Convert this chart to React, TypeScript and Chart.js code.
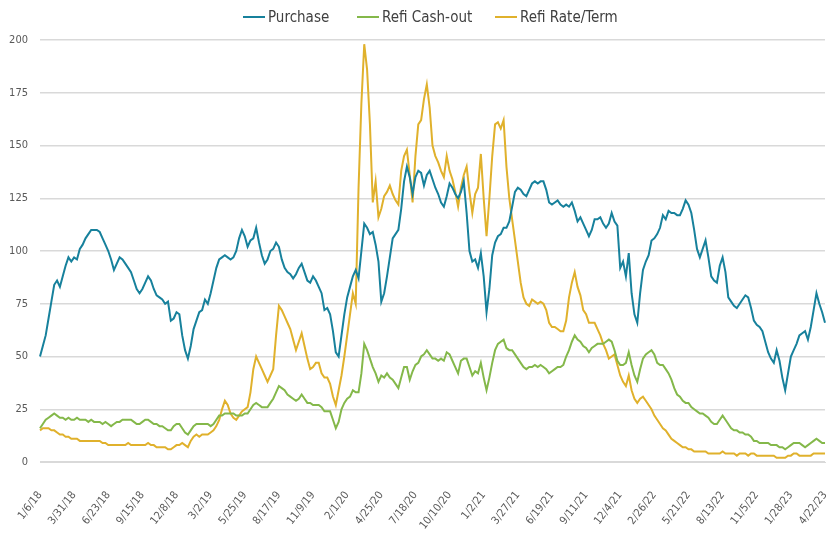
import React, { useEffect, useRef } from "react";
import { Chart, registerables } from "chart.js";

Chart.register(...registerables);

const START_DATE = "2018-01-06";
const TICK_EVERY = 12;

const PURCHASE = [
  50, 55, 60, 68, 76, 84, 86, 83, 88, 93, 97, 95, 97, 96, 101, 103, 106, 108, 110, 110,
  110, 109, 106, 103, 100, 96, 91, 94, 97, 96, 94, 92, 90, 86, 82, 80, 82, 85, 88, 86,
  82, 79, 78, 77, 75, 76, 67, 68, 71, 70, 60, 53, 49, 55, 63, 67, 71, 72, 77, 75,
  80, 86, 92, 96, 97, 98, 97, 96, 97, 100, 106, 110, 107, 102, 105, 106, 111, 104, 98, 94,
  96, 100, 101, 104, 102, 96, 92, 90, 89, 87, 89, 92, 94, 90, 86, 85, 88, 86, 83, 80,
  72, 73, 70, 62, 52, 50, 60, 70, 78, 83, 88, 91, 87, 100, 113, 111, 108, 109, 103, 95,
  76, 80, 88, 97, 106, 108, 110, 120, 133, 140, 135, 127, 135, 138, 137, 131, 136, 138, 134, 130,
  127, 123, 121, 126, 132, 130, 127, 125, 128, 133, 118, 100, 95, 96, 92, 99, 88, 71, 82, 98,
  104, 107, 108, 111, 111, 114, 121, 128, 130, 129, 127, 126, 129, 132, 133, 132, 133, 133, 129, 123,
  122, 123, 124, 122, 121, 122, 121, 123, 119, 114, 116, 113, 110, 107, 110, 115, 115, 116, 113, 111,
  113, 118, 114, 112, 92, 95, 88, 99, 80, 70, 66, 80, 91, 95, 98, 105, 106, 108, 111, 117,
  115, 119, 118, 118, 117, 117, 120, 124, 122, 118, 110, 101, 97, 101, 105, 97, 88, 86, 85, 93,
  97, 90, 78, 76, 74, 73, 75, 77, 79, 78, 73, 67, 65, 64, 62, 57, 52, 49, 47, 53,
  48, 40, 34, 42, 50, 53, 56, 60, 61, 62, 58, 64, 72, 80, 75, 71, 66,
];

const REFI_CASH_OUT = [
  16, 18, 20, 21, 22, 23, 22, 21, 21, 20, 21, 20, 20, 21, 20, 20, 20, 19, 20, 19,
  19, 19, 18, 19, 18, 17, 18, 19, 19, 20, 20, 20, 20, 19, 18, 18, 19, 20, 20, 19,
  18, 18, 17, 17, 16, 15, 15, 17, 18, 18, 16, 14, 13, 15, 17, 18, 18, 18, 18, 18,
  17, 18, 20, 22, 22, 23, 23, 23, 23, 22, 22, 22, 23, 23, 25, 27, 28, 27, 26, 26,
  26, 28, 30, 33, 36, 35, 34, 32, 31, 30, 29, 30, 32, 30, 28, 28, 27, 27, 27, 26,
  24, 24, 24, 20, 16, 19, 25, 28, 30, 31, 34, 33, 33, 42, 56, 53, 49, 45, 42, 38,
  41, 40, 42, 40, 39, 37, 35, 40, 45, 45, 39, 43, 46, 47, 50, 51, 53, 51, 49, 49,
  48, 49, 48, 52, 51, 48, 45, 42, 48, 49, 49, 45, 41, 43, 42, 47, 40, 34, 40, 47,
  53, 56, 57, 58, 54, 53, 53, 51, 49, 47, 45, 44, 45, 45, 46, 45, 46, 45, 44, 42,
  43, 44, 45, 45, 46, 50, 53, 57, 60, 58, 57, 55, 54, 52, 54, 55, 56, 56, 56, 57,
  58, 57, 53, 48, 46, 46, 47, 52, 46, 41, 38, 44, 49, 51, 52, 53, 51, 47, 46, 46,
  44, 42, 39, 35, 32, 31, 29, 28, 28, 26, 25, 24, 23, 23, 22, 21, 19, 18, 18, 20,
  22, 20, 18, 16, 15, 15, 14, 14, 13, 13, 12, 10, 10, 9, 9, 9, 9, 8, 8, 8,
  7, 7, 6, 7, 8, 9, 9, 9, 8, 7, 8, 9, 10, 11, 10, 9, 9,
];

const REFI_RATE_TERM = [
  15, 16, 16, 16, 15, 15, 14, 13, 13, 12, 12, 11, 11, 11, 10, 10, 10, 10, 10, 10,
  10, 10, 9, 9, 8, 8, 8, 8, 8, 8, 8, 9, 8, 8, 8, 8, 8, 8, 9, 8,
  8, 7, 7, 7, 7, 6, 6, 7, 8, 8, 9, 8, 7, 10, 12, 13, 12, 13, 13, 13,
  14, 15, 17, 20, 25, 29, 27, 23, 21, 20, 22, 24, 25, 26, 33, 44, 50, 47, 44, 41,
  38, 41, 44, 60, 74, 72, 69, 66, 63, 58, 53, 57, 61, 55, 49, 44, 45, 47, 47, 42,
  40, 40, 37, 31, 27, 34, 41, 50, 60, 70, 80, 75, 130, 170, 198, 186, 160, 123, 133, 116,
  120, 126, 128, 131, 127, 124, 122, 138, 145, 148, 136, 123, 145, 160, 162, 172, 179, 168, 150, 145,
  142, 138, 135, 145, 138, 134, 128, 121, 130, 136, 140, 128, 118, 127, 130, 146, 125, 107, 125, 145,
  160, 161, 158, 162, 140, 125, 115, 105, 95, 85, 78, 75, 74, 77, 76, 75, 76, 75, 72, 66,
  64, 64, 63, 62, 62, 67, 78, 85, 90, 83, 79, 72, 70, 66, 66, 66, 63, 60, 56, 53,
  49, 50, 51, 46, 41, 38, 36, 41, 34, 30, 28, 30, 31, 29, 27, 25, 22, 20, 18, 16,
  15, 13, 11, 10, 9, 8, 7, 7, 6, 6, 5, 5, 5, 5, 5, 4, 4, 4, 4, 4,
  5, 4, 4, 4, 4, 3, 4, 4, 4, 3, 4, 4, 3, 3, 3, 3, 3, 3, 3, 2,
  2, 2, 2, 3, 3, 4, 4, 3, 3, 3, 3, 3, 4, 4, 4, 4, 4,
];

const SERIES_NAMES = ["Purchase", "Refi Cash-out", "Refi Rate/Term"];
const SERIES_COLORS = ["#17819c", "#84b84a", "#e0b12c"];

function weekLabels(n: number): string[] {
  const [y, m, d] = START_DATE.split("-").map(Number);
  const base = Date.UTC(y, m - 1, d);
  const out: string[] = [];
  for (let i = 0; i < n; i++) {
    const dt = new Date(base + i * 7 * 86400000);
    out.push(`${dt.getUTCMonth() + 1}/${dt.getUTCDate()}/${String(dt.getUTCFullYear()).slice(2)}`);
  }
  return out;
}

const FONT = "'Liberation Sans Narrow', 'Arial Narrow', 'DejaVu Sans Condensed', 'Liberation Sans', sans-serif";
const LEGEND_LEFT = [243, 357, 495];

export default function App() {
  const ref = useRef<HTMLCanvasElement | null>(null);

  useEffect(() => {
    if (!ref.current) return;
    const labels = weekLabels(PURCHASE.length);
    const dataSets = [PURCHASE, REFI_CASH_OUT, REFI_RATE_TERM];

    const chart = new Chart(ref.current, {
      type: "line",
      data: {
        labels,
        datasets: dataSets.map((d, i) => ({
          label: SERIES_NAMES[i],
          data: d,
          borderColor: SERIES_COLORS[i],
          backgroundColor: SERIES_COLORS[i],
          borderWidth: 2,
          pointRadius: 0,
          tension: 0,
          fill: false,
        })),
      },
      options: {
        animation: false,
        responsive: false,
        maintainAspectRatio: false,
        layout: { padding: { top: 40, right: 2, left: 0, bottom: 0 } },
        plugins: {
          legend: { display: false },
          tooltip: { enabled: false },
        },
        scales: {
          x: {
            type: "category",
            offset: false,
            grid: { display: false },
            border: { display: true, color: "#d9d9d9" },
            afterFit(scale: any) {
              scale.height = 71;
              scale.paddingRight = 0;
              scale.paddingLeft = 0;
            },
            ticks: {
              autoSkip: false,
              maxRotation: 52,
              minRotation: 52,
              color: "#595959",
              padding: 19,
              font: { family: FONT, size: 11 },
              callback(_v: any, i: number) {
                return i % TICK_EVERY === 0 ? labels[i] : null;
              },
            },
          },
          y: {
            min: 0,
            max: 200,
            afterFit(scale: any) {
              scale.width = 40;
            },
            border: { display: false },
            grid: { color: "#d9d9d9", lineWidth: 1.5, drawTicks: false },
            ticks: {
              stepSize: 25,
              color: "#595959",
              padding: 12,
              font: { family: FONT, size: 11 },
            },
          },
        },
      },
    });
    return () => chart.destroy();
  }, []);

  return (
    <div style={{ position: "absolute", left: 0, top: 0, width: 827, height: 533, background: "#fff" }}>
      <canvas ref={ref} width={827} height={533} style={{ width: 827, height: 533, display: "block" }} />
      {SERIES_NAMES.map((name, i) => (
        <div
          key={name}
          style={{
            position: "absolute",
            top: 8,
            left: LEGEND_LEFT[i],
            display: "flex",
            alignItems: "center",
            fontFamily: FONT,
            fontSize: 15,
            color: "#404040",
            lineHeight: "18px",
            whiteSpace: "nowrap",
          }}
        >
          <span
            style={{
              display: "inline-block",
              width: 22,
              height: 2,
              background: SERIES_COLORS[i],
              marginRight: 3,
            }}
          />
          <span>{name}</span>
        </div>
      ))}
    </div>
  );
}
